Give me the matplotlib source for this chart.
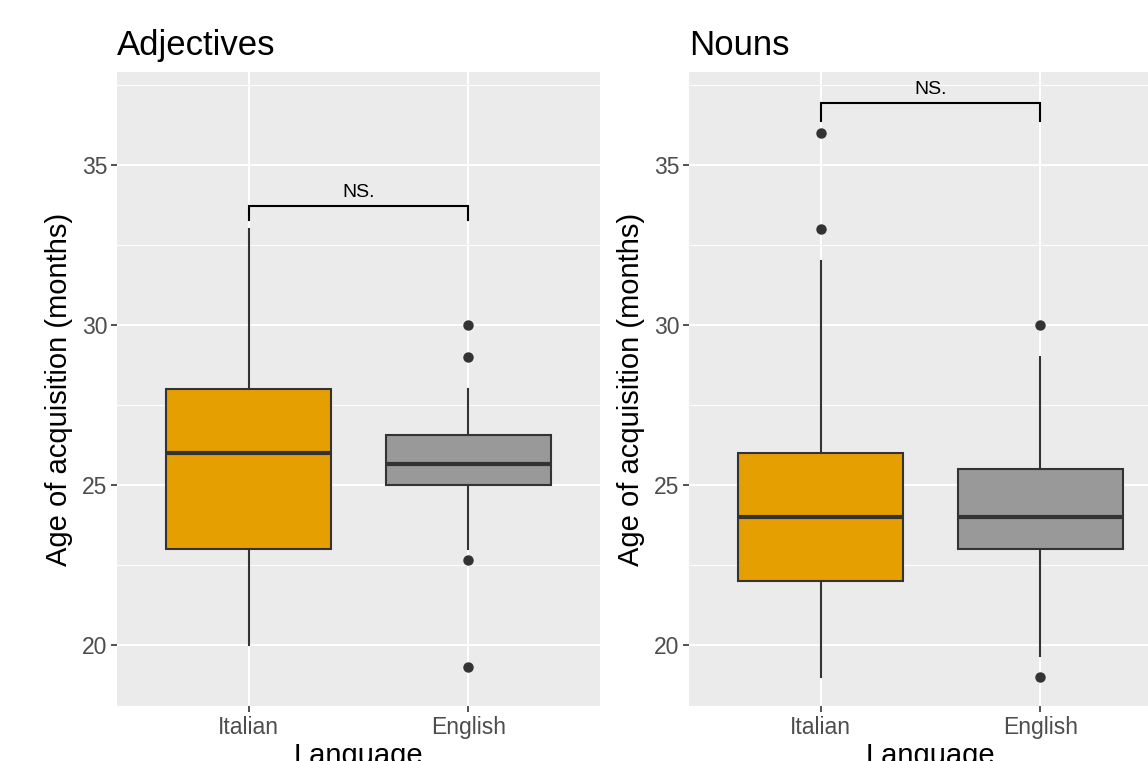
import numpy as np
import matplotlib.pyplot as plt

plt.rcParams['font.family'] = ['Liberation Sans', 'DejaVu Sans']

# data
panels = ['Adjectives', 'Nouns']
languages = ['Italian', 'English']
colors = ['#E69F00', '#999999']

# per panel, per language: whislo, q1, med, q3, whishi
whislo = [[20, 23], [19, 19.67]]
q1 = [[23, 25], [22, 23]]
med = [[26, 25.67], [24, 24]]
q3 = [[28, 26.55], [26, 25.5]]
whishi = [[33, 28], [32, 29]]
fliers = [[[], [30, 29, 22.67, 19.33]], [[36, 33], [30, 19]]]

bracket_y = [33.72, 36.94]
bracket_tip = [33.28, 36.375]
bracket_label = ['NS.', 'NS.']

fig = plt.figure(figsize=(11.48, 7.61), dpi=100)
W, H = 1148, 761
positions = [117, 689]

for p, name in enumerate(panels):
    ax = fig.add_axes([positions[p] / W, 55 / H, 483 / W, 634 / H])
    ax.set_facecolor('#EBEBEB')
    for s in ax.spines.values():
        s.set_visible(False)

    stats = []
    for i, lang in enumerate(languages):
        stats.append(dict(whislo=whislo[p][i], q1=q1[p][i], med=med[p][i],
                          q3=q3[p][i], whishi=whishi[p][i],
                          fliers=fliers[p][i], label=lang))
    bp = ax.bxp(stats, positions=[1, 2], widths=0.75, patch_artist=True,
                showcaps=False,
                boxprops=dict(edgecolor='#333333', linewidth=1.5),
                medianprops=dict(color='#333333', linewidth=3),
                whiskerprops=dict(color='#333333', linewidth=1.5),
                flierprops=dict(marker='o', markerfacecolor='#333333',
                                markeredgecolor='#333333', markersize=6.5))
    for patch, c in zip(bp['boxes'], colors):
        patch.set_facecolor(c)
    for art in bp['boxes'] + bp['medians'] + bp['whiskers'] + bp['fliers']:
        art.set_zorder(3)

    # significance bracket
    ax.plot([1, 1, 2, 2], [bracket_tip[p], bracket_y[p], bracket_y[p], bracket_tip[p]],
            color='black', linewidth=1.5, zorder=4, solid_joinstyle='miter')
    ax.text(1.5, bracket_y[p] + 0.15, bracket_label[p], ha='center', va='bottom',
            fontsize=14, color='black')

    ax.set_xlim(0.4, 2.6)
    ax.set_ylim(18.1, 37.9)
    ax.set_yticks([20, 25, 30, 35])
    ax.set_yticks([22.5, 27.5, 32.5, 37.5], minor=True)
    ax.set_xticks([1, 2])
    ax.set_xticklabels(languages)
    ax.grid(True, which='major', color='white', linewidth=1.4, zorder=0)
    ax.grid(True, which='minor', axis='y', color='white', linewidth=0.7, zorder=0)
    ax.set_axisbelow(True)
    ax.tick_params(axis='both', which='major', length=4, width=1.2,
                   color='#333333', labelcolor='#4D4D4D', labelsize=16.5, pad=3)
    ax.tick_params(axis='both', which='minor', length=0)
    ax.set_xlabel('Language', fontsize=21, labelpad=2)
    ax.set_ylabel('Age of acquisition (months)', fontsize=21, labelpad=6)
    ax.set_title(name, loc='left', fontsize=25, pad=12)

fig.savefig('out.png', dpi=100)
